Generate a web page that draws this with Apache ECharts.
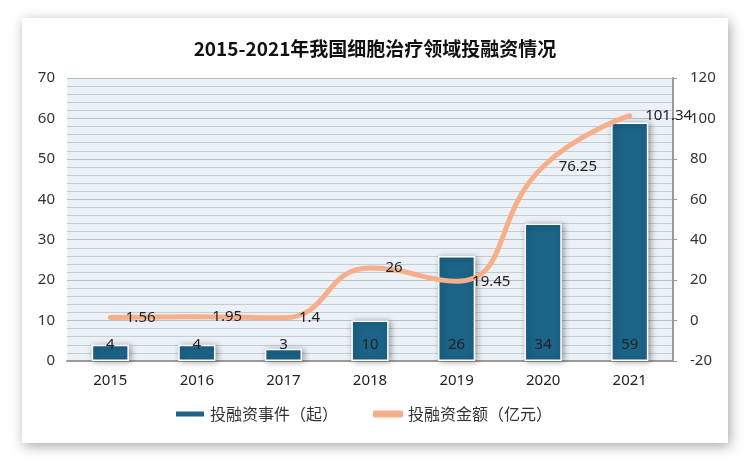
<!DOCTYPE html>
<html><head><meta charset="utf-8">
<script src="https://cdn.jsdelivr.net/npm/echarts@6/dist/echarts.min.js"></script>
<style>html,body{margin:0;padding:0;background:#fff}#c{width:750px;height:462px}</style>
</head><body><div id="c"></div>
<script>
const years = ['2015','2016','2017','2018','2019','2020','2021'];
const events = [4, 4, 3, 10, 26, 34, 59];
const amounts = [1.56, 1.95, 1.4, 26, 19.45, 76.25, 101.34];
const titleText = '2015-2021年我国细胞治疗领域投融资情况';
const barName = '投融资事件（起）';
const lineName = '投融资金额（亿元）';

const chart = echarts.init(document.getElementById('c'), null, {renderer:'canvas'});
const numFont = '"Noto Sans", "Open Sans", sans-serif';
chart.setOption({
  animation: false,
  graphic: [{
    type: 'rect', z: -10, silent: true,
    shape: {x: 22, y: 18, width: 706, height: 425},
    style: {fill: '#fff', shadowBlur: 12, shadowColor: 'rgba(0,0,0,0.35)', shadowOffsetX: 2, shadowOffsetY: 3}
  }],
  title: {
    text: titleText, left: 'center', top: 34,
    textStyle: {fontSize: 19, fontWeight: 'bold', color: '#111', fontFamily: '"Liberation Sans Narrow", "Noto Sans CJK SC", sans-serif'}
  },
  grid: {left: 67, right: 77, top: 78, bottom: 101},
  legend: {
    bottom: 32, left: 144, itemGap: 35, itemWidth: 30, itemHeight: 7,
    backgroundColor: '#fff', padding: [8, 30],
    textStyle: {fontSize: 16, color: '#333', fontFamily: '"Noto Sans CJK SC", sans-serif'},
    data: [{name: barName, icon: 'rect'}, {name: lineName, icon: 'roundRect'}]
  },
  xAxis: {
    type: 'category', data: years,
    axisLine: {lineStyle: {color: '#9a9a9a', width: 2}},
    axisTick: {show: false},
    axisLabel: {fontSize: 15, color: '#222', margin: 12, fontFamily: numFont}
  },
  yAxis: [{
    type: 'value', min: 0, max: 70, interval: 10,
    axisLine: {show: false}, axisTick: {show: false},
    axisLabel: {fontSize: 15, color: '#333', margin: 12, fontFamily: numFont},
    splitLine: {show: true, lineStyle: {color: '#b8c0c8', width: 1}},
    minorTick: {show: false, splitNumber: 5},
    minorSplitLine: {show: true, lineStyle: {color: '#c4ccd4', width: 1}},
    splitArea: {show: true, areaStyle: {color: ['#ebf1f7', '#ebf1f7']}}
  }, {
    type: 'value', min: -20, max: 120, interval: 20, position: 'right',
    axisLine: {show: true, lineStyle: {color: '#9a9a9a', width: 2}},
    axisTick: {show: true, length: 4, lineStyle: {color: '#9a9a9a'}},
    axisLabel: {fontSize: 15, color: '#333', margin: 17, fontFamily: numFont},
    splitLine: {show: false}
  }],
  series: [{
    name: barName, type: 'bar', data: events, barWidth: '43%', yAxisIndex: 0,
    itemStyle: {color: '#1b6387', borderColor: '#fff', borderWidth: 1.5,
      shadowBlur: 6, shadowColor: 'rgba(0,0,0,0.35)', shadowOffsetX: 2, shadowOffsetY: 1},
    label: {show: true, position: 'insideBottom', distance: 9, color: '#222', fontSize: 15, fontFamily: numFont}
  }, {
    name: lineName, type: 'line', data: amounts, yAxisIndex: 1, smooth: 0.5,
    symbol: 'circle', symbolSize: 3, showSymbol: true,
    lineStyle: {color: '#f5b08a', width: 5, cap: 'round'}, itemStyle: {color: '#f5b08a'},
    label: {show: true, position: 'right', distance: 14, offset: [0, 4], color: '#222', fontSize: 15, fontFamily: numFont},
    labelLayout: {hideOverlap: false},
    z: 5
  }]
});
</script></body></html>
